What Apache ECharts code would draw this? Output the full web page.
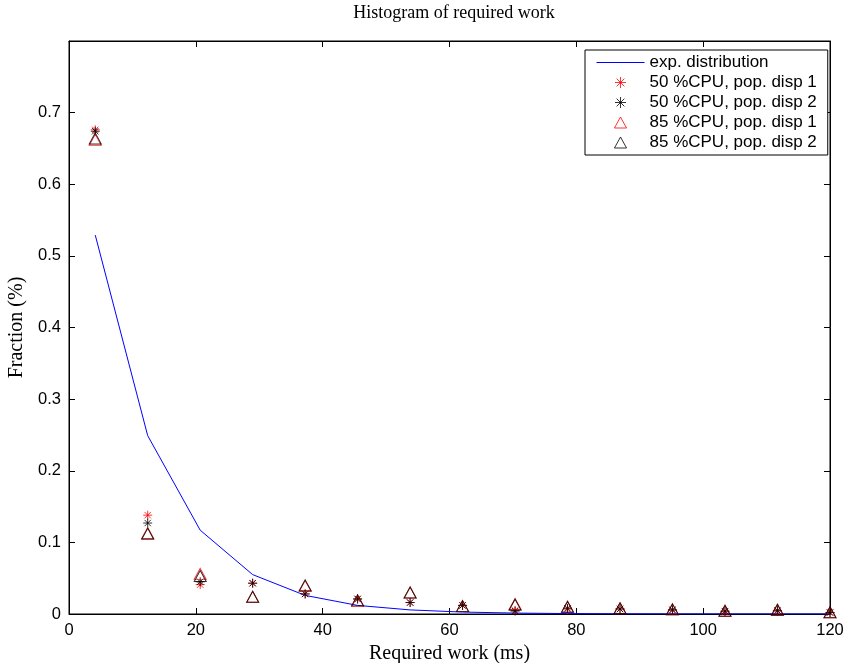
<!DOCTYPE html>
<html>
<head>
<meta charset="utf-8">
<script src="https://cdn.jsdelivr.net/npm/echarts@6/dist/echarts.min.js"></script>
<style>
html,body{margin:0;padding:0;background:#fff;}
#chart{width:849px;height:663px;}
</style>
</head>
<body>
<div id="chart"></div>
<script>
// Bin centres (ms)
var binCenters = [4.14, 12.41, 20.69, 28.96, 37.24, 45.51, 53.79, 62.06, 70.34, 78.61, 86.89, 95.16, 103.44, 111.71, 120.0];
// Exponential distribution curve
var expDist = [0.529, 0.249, 0.117, 0.055, 0.026, 0.012, 0.0057, 0.0027, 0.0013, 0.0006, 0.0003, 0.00013, 0.00006, 0.00003, 0.00001];
// 50 %CPU, pop. disp 1
var cpu50disp1 = [0.676, 0.138, 0.041, 0.043, 0.028, 0.021, 0.016, 0.012, 0.005, 0.007, 0.007, 0.005, 0.003, 0.004, 0.002];
// 50 %CPU, pop. disp 2
var cpu50disp2 = [0.674, 0.127, 0.045, 0.043, 0.028, 0.021, 0.016, 0.012, 0.004, 0.008, 0.007, 0.006, 0.004, 0.005, 0.002];
// 85 %CPU, pop. disp 1
var cpu85disp1 = [0.662, 0.113, 0.056, 0.024, 0.039, 0.018, 0.030, 0.011, 0.014, 0.010, 0.008, 0.0065, 0.0046, 0.006, 0.0024];
// 85 %CPU, pop. disp 2
var cpu85disp2 = [0.664, 0.112, 0.053, 0.024, 0.040, 0.019, 0.030, 0.011, 0.013, 0.010, 0.008, 0.0065, 0.0046, 0.006, 0.0024];

var seriesNames = ['exp. distribution', '50 %CPU, pop. disp 1', '50 %CPU, pop. disp 2', '85 %CPU, pop. disp 1', '85 %CPU, pop. disp 2'];

function pairs(ys) { return binCenters.map(function (x, i) { return [x, ys[i]]; }); }

var STAR = 'path://M0,-10L0,10M-10,0L10,0M-7.07,-7.07L7.07,7.07M-7.07,7.07L7.07,-7.07';
var TRI = 'path://M0,-10L11,10L-11,10Z';
var SERIF = '"Liberation Serif", "DejaVu Serif", serif';
var SANS = '"Liberation Sans", Arial, sans-serif';

function tick() { return {show: true, inside: true, length: 6, lineStyle: {color: '#000', width: 1}}; }
function line() { return {show: true, onZero: false, lineStyle: {color: '#000', width: 1}}; }

var chart = echarts.init(document.getElementById('chart'), null, {renderer: 'canvas'});

chart.setOption({
  animation: false,
  backgroundColor: '#fff',
  title: {
    text: 'Histogram of required work',
    left: 449, top: -1, textAlign: 'center',
    textStyle: {fontFamily: SERIF, fontSize: 18, fontWeight: 'normal', color: '#000'}
  },
  grid: {left: 69, right: 19, top: 41, bottom: 49, outerBoundsMode: 'none', containLabel: false,
    show: true, borderColor: '#000', borderWidth: 1, backgroundColor: '#fff'},
  legend: {
    orient: 'vertical',
    left: 585, top: 50,
    padding: [4, 11, 4, 11],
    itemGap: 3,
    itemWidth: 48, itemHeight: 11,
    backgroundColor: '#fff', borderColor: '#000', borderWidth: 1,
    textStyle: {fontFamily: SANS, fontSize: 17, color: '#000'},
    itemStyle: {borderWidth: 1},
    lineStyle: {width: 1},
    data: [
      {name: seriesNames[0], itemStyle: {opacity: 0}},
      seriesNames[1], seriesNames[2], seriesNames[3], seriesNames[4]
    ]
  },
  xAxis: [{
    type: 'value', min: 0, max: 120, interval: 20,
    name: 'Required work (ms)', nameLocation: 'middle', nameGap: 26,
    nameTextStyle: {fontFamily: SERIF, fontSize: 20, color: '#000'},
    axisLine: line(),
    axisTick: tick(),
    axisLabel: {fontFamily: SANS, fontSize: 16.5, color: '#000', margin: 8},
    splitLine: {show: false}
  }, {
    type: 'value', min: 0, max: 120, interval: 20, position: 'top',
    axisLine: line(),
    axisTick: tick(), axisLabel: {show: false}, splitLine: {show: false}
  }],
  yAxis: [{
    type: 'value', min: 0, max: 0.8, interval: 0.1,
    name: 'Fraction (%)', nameLocation: 'middle', nameGap: 41,
    nameTextStyle: {fontFamily: SERIF, fontSize: 20, color: '#000'},
    axisLine: line(),
    axisTick: tick(),
    axisLabel: {fontFamily: SANS, fontSize: 16.5, color: '#000', margin: 8,
      formatter: function (v) { return v > 0.75 ? '' : String(Math.round(v * 10) / 10); }},
    splitLine: {show: false}
  }, {
    type: 'value', min: 0, max: 0.8, interval: 0.1, position: 'right',
    axisLine: line(),
    axisTick: tick(), axisLabel: {show: false}, splitLine: {show: false}
  }],
  series: [{
    name: seriesNames[0], type: 'line', data: pairs(expDist),
    symbol: 'none', showSymbol: false,
    lineStyle: {color: '#0000ff', width: 1}, itemStyle: {color: '#0000ff'}, z: 2
  }, {
    name: seriesNames[1], type: 'scatter', data: pairs(cpu50disp1),
    symbol: STAR, symbolSize: 9,
    itemStyle: {color: '#ff0000', borderColor: '#ff0000', borderWidth: 1}, z: 3
  }, {
    name: seriesNames[2], type: 'scatter', data: pairs(cpu50disp2),
    symbol: STAR, symbolSize: 9,
    itemStyle: {color: '#000000', borderColor: '#000000', borderWidth: 1}, z: 4
  }, {
    name: seriesNames[3], type: 'scatter', data: pairs(cpu85disp1),
    symbol: TRI, symbolSize: [12, 11],
    itemStyle: {color: 'rgba(0,0,0,0)', borderColor: '#ff0000', borderWidth: 1}, z: 5
  }, {
    name: seriesNames[4], type: 'scatter', data: pairs(cpu85disp2),
    symbol: TRI, symbolSize: [12, 11],
    itemStyle: {color: 'rgba(0,0,0,0)', borderColor: '#000000', borderWidth: 1}, z: 6
  }]
});
</script>
</body>
</html>
